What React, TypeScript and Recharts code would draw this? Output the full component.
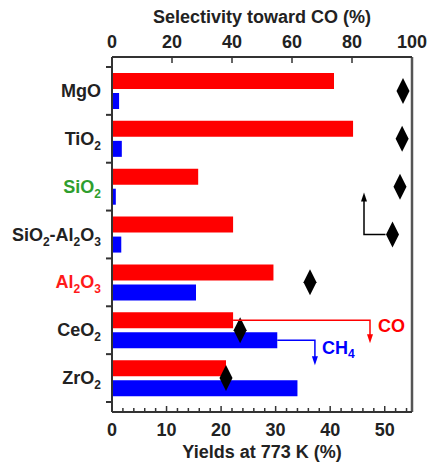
import {
  ComposedChart,
  Bar,
  Line,
  XAxis,
  YAxis,
  Label,
  ReferenceLine,
} from "recharts";

const categories = ["MgO", "TiO2", "SiO2", "SiO2-Al2O3", "Al2O3", "CeO2", "ZrO2"];
const coYield = [40.7, 44.2, 15.8, 22.2, 29.6, 22.2, 20.9];
const ch4Yield = [1.3, 1.8, 0.7, 1.7, 15.4, 30.3, 34.0];
const coSelectivity = [97, 96.7, 96, 93.5, 66, 42.7, 38];

const yieldTicks = [0, 2, 4, 6, 8, 10, 12, 14, 16, 18, 20, 22, 24, 26, 28, 30, 32, 34, 36, 38, 40, 42, 44, 46, 48, 50, 52, 54];
const selTicks = [0, 20, 40, 60, 80, 100];
const labelColors: Record<string, string> = { SiO2: "#2e9e2e", Al2O3: "#ff1a1a" };

const data = categories.map((name, i) => ({
  name,
  co: coYield[i],
  ch4: ch4Yield[i],
  sel: coSelectivity[i],
}));

const W = 428;
const H = 463;
const LEFT = 112;
const RIGHT = 412;
const TOP = 57;
const BOTTOM = 412;
const PAD = 10;
const BAND = (BOTTOM - TOP - 2 * PAD) / categories.length;
const FONT = "'Liberation Sans', Arial, sans-serif";
const FS = 18;
const AXIS = "#333";
const RED = "#ff0000";
const BLUE = "#0000ff";

// pixel helpers for the annotation overlay
const xYield = (v: number) => LEFT + (v / 55) * (RIGHT - LEFT);
const xSel = (v: number) => LEFT + (v / 100) * (RIGHT - LEFT);
const bandTop = (i: number) => TOP + PAD + i * BAND;

function Formula({ text }: { text: string }) {
  const parts = text.split(/(\d)/).filter((p) => p !== "");
  let sub = false;
  return (
    <>
      {parts.map((p, i) => {
        const isNum = /\d/.test(p);
        const dy = isNum && !sub ? 5 : !isNum && sub ? -5 : 0;
        sub = isNum;
        return (
          <tspan key={i} dy={dy} fontSize={isNum ? 12 : FS}>
            {p}
          </tspan>
        );
      })}
    </>
  );
}

const CategoryTick = (props: any) => {
  const { x, y, payload, index } = props;
  return (
    <g>
      <text
        x={x - 11}
        y={y + 6}
        textAnchor="end"
        fontFamily={FONT}
        fontWeight="bold"
        fontSize={FS}
        fill={labelColors[payload.value] || "#222"}
      >
        <Formula text={payload.value} />
      </text>
      <line x1={x - 6} x2={x} y1={y - BAND / 2} y2={y - BAND / 2} stroke={AXIS} strokeWidth={2} />
      {index === categories.length - 1 && (
        <line x1={x - 6} x2={x} y1={y + BAND / 2} y2={y + BAND / 2} stroke={AXIS} strokeWidth={2} />
      )}
    </g>
  );
};

const YieldTick = (props: any) => {
  const { x, y, payload } = props;
  const major = payload.value % 10 === 0;
  return (
    <g>
      <line x1={x} x2={x} y1={y} y2={y - (major ? 6 : 4)} stroke={AXIS} strokeWidth={1.5} />
      {major && (
        <text x={x} y={y + 24} textAnchor="middle" fontFamily={FONT} fontWeight="bold" fontSize={FS} fill="#222">
          {payload.value}
        </text>
      )}
    </g>
  );
};

const SelTick = (props: any) => {
  const { x, y, payload } = props;
  const inner = payload.value > 0 && payload.value < 100;
  return (
    <g>
      {inner && <line x1={x} x2={x} y1={y} y2={y + 6} stroke={AXIS} strokeWidth={1.5} />}
      <text x={x} y={y - 9} textAnchor="middle" fontFamily={FONT} fontWeight="bold" fontSize={FS} fill="#222">
        {payload.value}
      </text>
    </g>
  );
};

const Diamond = (props: any) => {
  const { cx, cy, index } = props;
  if (cx == null || cy == null) return <g key={index} />;
  return (
    <path
      key={index}
      d={`M${cx},${cy - 13} L${cx + 6.5},${cy} L${cx},${cy + 13} L${cx - 6.5},${cy} Z`}
      fill="#000"
    />
  );
};

function Annotations() {
  const i3 = 3;
  const y3 = bandTop(i3) + BAND / 2;
  const xd = xSel(coSelectivity[i3]) - 7;
  const xk = xSel(84);
  const i5 = 5;
  const yRed = bandTop(i5) + 14;
  const yBlue = bandTop(i5) + 34;
  const xCo = xYield(47.3);
  const xCh4 = xYield(37.2);
  const yCoEnd = bandTop(i5) + 37;
  const yCh4End = bandTop(i5 + 1) + 11;
  return (
    <svg
      width={W}
      height={H}
      style={{ position: "absolute", left: 0, top: 0, pointerEvents: "none" }}
    >
      <polyline points={`${xd},${y3} ${xk},${y3} ${xk},${y3 - 36}`} fill="none" stroke="#000" strokeWidth={1.5} />
      <path d={`M${xk},${y3 - 42} L${xk + 3},${y3 - 33} L${xk - 3},${y3 - 33} Z`} fill="#000" />

      <polyline points={`${xYield(coYield[i5])},${yRed} ${xCo},${yRed} ${xCo},${yCoEnd - 6}`} fill="none" stroke={RED} strokeWidth={1.5} />
      <path d={`M${xCo},${yCoEnd} L${xCo + 3},${yCoEnd - 9} L${xCo - 3},${yCoEnd - 9} Z`} fill={RED} />
      <text x={xCo + 8} y={yRed + 12} fontFamily={FONT} fontWeight="bold" fontSize={FS} fill={RED}>
        CO
      </text>

      <polyline points={`${xYield(ch4Yield[i5])},${yBlue} ${xCh4},${yBlue} ${xCh4},${yCh4End - 6}`} fill="none" stroke={BLUE} strokeWidth={1.5} />
      <path d={`M${xCh4},${yCh4End} L${xCh4 + 3},${yCh4End - 9} L${xCh4 - 3},${yCh4End - 9} Z`} fill={BLUE} />
      <text x={xCh4 + 7} y={yBlue + 14} fontFamily={FONT} fontWeight="bold" fontSize={FS} fill={BLUE}>
        CH<tspan dy={4} fontSize={12}>4</tspan>
      </text>
    </svg>
  );
}

export default function App() {
  return (
    <div style={{ position: "absolute", left: 0, top: 0, width: W, height: H, background: "#fff" }}>
      <ComposedChart
        width={W}
        height={H}
        data={data}
        layout="vertical"
        margin={{ top: 0, right: W - RIGHT, bottom: 0, left: 0 }}
        barSize={16}
        barGap={4}
      >
        <XAxis
          xAxisId="sel"
          orientation="top"
          type="number"
          dataKey="sel"
          domain={[0, 100]}
          ticks={selTicks}
          interval={0}
          height={TOP}
          tickSize={0}
          tickMargin={0}
          tickLine={false}
          tick={<SelTick />}
          axisLine={{ stroke: AXIS, strokeWidth: 2 }}
        >
          <Label
            value="Selectivity toward CO (%)"
            position="insideTop"
            offset={10}
            fontFamily={FONT}
            fontWeight="bold"
            fontSize={FS}
            fill="#222"
          />
        </XAxis>
        <XAxis
          xAxisId="yield"
          orientation="bottom"
          type="number"
          domain={[0, 55]}
          ticks={yieldTicks}
          interval={0}
          height={H - BOTTOM}
          tickSize={0}
          tickMargin={0}
          tickLine={false}
          tick={<YieldTick />}
          axisLine={{ stroke: AXIS, strokeWidth: 2 }}
        >
          <Label
            value="Yields at 773 K (%)"
            position="insideBottom"
            offset={5}
            fontFamily={FONT}
            fontWeight="bold"
            fontSize={FS}
            fill="#222"
          />
        </XAxis>
        <YAxis
          type="category"
          dataKey="name"
          width={LEFT}
          padding={{ top: PAD, bottom: PAD }}
          interval={0}
          tickSize={0}
          tickMargin={0}
          tickLine={false}
          tick={<CategoryTick />}
          axisLine={{ stroke: AXIS, strokeWidth: 2 }}
        />
        <ReferenceLine xAxisId="yield" x={55} stroke="#555" strokeWidth={2.5} />
        <Bar xAxisId="yield" dataKey="co" fill={RED} isAnimationActive={false} />
        <Bar xAxisId="yield" dataKey="ch4" fill={BLUE} isAnimationActive={false} />
        <Line
          xAxisId="sel"
          dataKey="sel"
          stroke="none"
          dot={Diamond}
          activeDot={false}
          legendType="none"
          isAnimationActive={false}
        />
      </ComposedChart>
      <Annotations />
    </div>
  );
}
